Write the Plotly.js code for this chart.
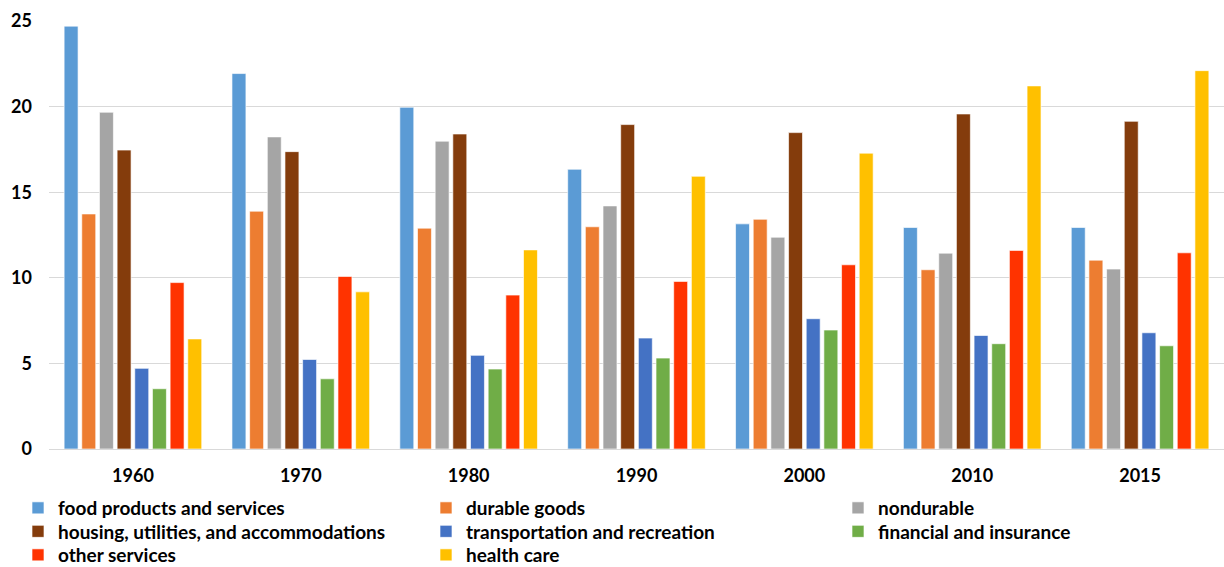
<!DOCTYPE html>
<html>
<head>
<meta charset="utf-8">
<script src="https://cdn.plot.ly/plotly-3.0.1.min.js"></script>
<style>html,body{margin:0;padding:0;background:#fff;}#chart{width:1224px;height:567px;}</style>
</head>
<body>
<div id="chart"></div>
<script>
const years = ["1960", "1970", "1980", "1990", "2000", "2010", "2015"];
const seriesNames = ["food products and services", "durable goods", "nondurable",
  "housing, utilities, and accommodations", "transportation and recreation",
  "financial and insurance", "other services", "health care"];
const food = [24.7, 21.93, 19.96, 16.34, 13.15, 12.94, 12.94];
const durable = [13.73, 13.89, 12.9, 12.98, 13.42, 10.47, 11.03];
const nondurable = [19.67, 18.23, 17.98, 14.2, 12.37, 11.44, 10.51];
const housing = [17.46, 17.37, 18.4, 18.95, 18.48, 19.57, 19.14];
const transport = [4.71, 5.23, 5.47, 6.48, 7.61, 6.63, 6.79];
const financial = [3.52, 4.1, 4.67, 5.31, 6.95, 6.15, 6.03];
const other = [9.72, 10.08, 8.99, 9.79, 10.76, 11.6, 11.46];
const health = [6.43, 9.18, 11.63, 15.93, 17.28, 21.21, 22.1];
const yTicks = [0, 5, 10, 15, 20, 25];

const values = [food, durable, nondurable, housing, transport, financial, other, health];
const colors = ["#5B9BD5", "#ED7D31", "#A5A5A5", "#843C0C", "#4472C4", "#70AD47", "#FF3300", "#FFC000"];

const FONT = "Lato, 'Open Sans', sans-serif";
const W = 1224, H = 567;
const colX = [18, 426, 838];      // legend column left edges (px)
const rowTop = [489, 512.5, 536]; // legend row top edges (px)

const traces = values.map((v, i) => ({
  type: "bar",
  name: seriesNames[i],
  x: years,
  y: v,
  legend: i === 0 ? "legend" : "legend" + (i + 1),
  marker: {color: colors[i], line: {color: "rgba(255,255,255,0.8)", width: 0.8}},
  hoverinfo: "x+y+name"
}));

const layout = {
  width: W, height: H,
  margin: {l: 49, r: 0, t: 21, b: 118, autoexpand: false},
  paper_bgcolor: "#fff", plot_bgcolor: "#fff",
  barmode: "group",
  bargap: 0.158,
  bargroupgap: 0.21,
  font: {family: FONT, size: 18, color: "#000"},
  xaxis: {
    type: "category",
    showgrid: false,
    showline: false,
    ticks: "",
    tickfont: {family: FONT, size: 18, color: "#000", weight: "bold"},
    ticklabelstandoff: 14
  },
  yaxis: {
    range: [0, 25],
    tickvals: yTicks,
    ticktext: yTicks.map(String),
    showgrid: true,
    gridcolor: "#D9D9D9",
    gridwidth: 1,
    zeroline: true,
    zerolinecolor: "#D9D9D9",
    zerolinewidth: 1,
    showline: false,
    ticks: "",
    tickfont: {family: FONT, size: 18, color: "#000", weight: "bold"},
    ticklabelstandoff: 16,
    fixedrange: true
  },
  showlegend: true
};

seriesNames.forEach((n, i) => {
  const key = i === 0 ? "legend" : "legend" + (i + 1);
  const col = i % 3, row = Math.floor(i / 3);
  layout[key] = {
    orientation: "v",
    xref: "container", yref: "container",
    x: colX[col] / W, y: 1 - rowTop[row] / H,
    xanchor: "left", yanchor: "top",
    font: {family: FONT, size: 19, color: "#000", weight: "bold"},
    itemwidth: 30,
    bgcolor: "rgba(0,0,0,0)"
  };
});

Plotly.newPlot("chart", traces, layout, {displayModeBar: false, staticPlot: true});
</script>
</body>
</html>
